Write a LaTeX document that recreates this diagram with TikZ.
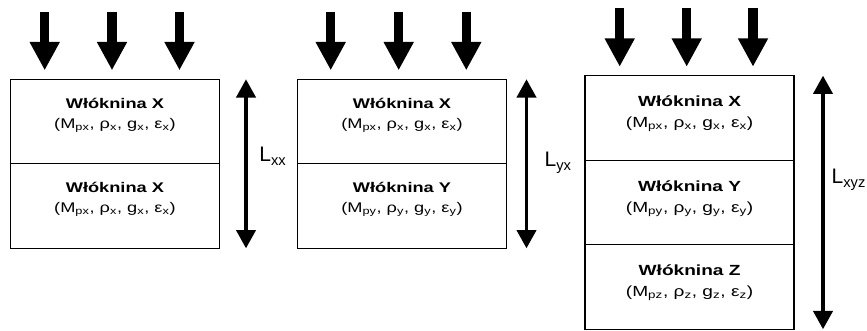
\documentclass[tikz,border=0pt]{standalone}
\usepackage{fontspec}
\setmainfont{Liberation Sans}
\usepackage{tikz}
\usetikzlibrary{arrows.meta,positioning}

\begin{document}
\begin{tikzpicture}[x=1pt, y=-1pt,
  layer/.style={draw, line width=1.3pt, minimum width=209pt, minimum height=84.5pt, inner sep=0pt, outer sep=0pt},
  lname/.style={anchor=base, inner sep=0pt, xscale=1.3, font=\fontsize{#1pt}{17pt}\selectfont\bfseries},
  lprops/.style={anchor=base, inner sep=0pt, xscale=1.3, font=\fontsize{#1pt}{17pt}\selectfont},
  load/.style={-{Triangle[width=28.3pt,length=28.3pt]}, line width=9.3pt, shorten >=9pt},
  span/.style={{Triangle[width=19.3pt,length=18.3pt]}-{Triangle[width=19.3pt,length=18.3pt]}, line width=3.3pt},
  dim/.style={anchor=base west, inner sep=0pt, font=\fontsize{21pt}{24pt}\selectfont}]

\useasboundingbox (0,0) rectangle (867,331);

% pair X + X
\node (xx1) at (114.9,121.55) [layer] {};
\node (xx2) [layer, below=0pt of xx1] {};

\node (xx1n) at ([yshift=-29pt]xx1.north) [lname=14] {Włóknina X};
\node (xx1p) at ([yshift=-49pt]xx1.north) [lprops=14] {(M\textsubscript{px}, ρ\textsubscript{x}, g\textsubscript{x}, ε\textsubscript{x})};
\node (xx2n) at ([yshift=-29pt]xx2.north) [lname=14] {Włóknina X};
\node (xx2p) at ([yshift=-49pt]xx2.north) [lprops=14] {(M\textsubscript{px}, ρ\textsubscript{x}, g\textsubscript{x}, ε\textsubscript{x})};

\coordinate (xxa) at (44.7,12);
\coordinate (xxb) at (112,12);
\coordinate (xxc) at (179.5,12);
\draw[load] (xxa) -- (xxa |- xx1.north);
\draw[load] (xxb) -- (xxb |- xx1.north);
\draw[load] (xxc) -- (xxc |- xx1.north);

\coordinate (xxd) at (246,0);
\draw[span] (xxd |- xx1.north) -- (xxd |- xx2.south);
\node (xxl) at (259.2,162) [dim] {L\textsubscript{xx}};

% pair Y + X
\node (yx1) at (402,121.55) [layer] {};
\node (yx2) [layer, below=0pt of yx1] {};

\node (yx1n) at ([yshift=-29pt]yx1.north) [lname=14] {Włóknina X};
\node (yx1p) at ([yshift=-49pt]yx1.north) [lprops=14] {(M\textsubscript{px}, ρ\textsubscript{x}, g\textsubscript{x}, ε\textsubscript{x})};
\node (yx2n) at ([yshift=-29pt]yx2.north) [lname=14] {Włóknina Y};
\node (yx2p) at ([yshift=-49pt]yx2.north) [lprops=14] {(M\textsubscript{py}, ρ\textsubscript{y}, g\textsubscript{y}, ε\textsubscript{y})};

\coordinate (yxa) at (330.7,11.7);
\coordinate (yxb) at (398.7,11.7);
\coordinate (yxc) at (466.3,11.7);
\draw[load] (yxa) -- (yxa |- yx1.north);
\draw[load] (yxb) -- (yxb |- yx1.north);
\draw[load] (yxc) -- (yxc |- yx1.north);

\coordinate (yxd) at (526.5,0);
\draw[span] (yxd |- yx1.north) -- (yxd |- yx2.south);
\node (yxl) at (544.5,167) [dim] {L\textsubscript{yx}};

% stack X + Y + Z
\node (xyz1) at (689.6,117.95) [layer] {};
\node (xyz2) [layer, below=0pt of xyz1] {};
\node (xyz3) [layer, below=0pt of xyz2] {};

\node (xyz1n) at ([yshift=-31pt]xyz1.north) [lname=14.7] {Włóknina X};
\node (xyz1p) at ([yshift=-52pt]xyz1.north) [lprops=14.7] {(M\textsubscript{px}, ρ\textsubscript{x}, g\textsubscript{x}, ε\textsubscript{x})};
\node (xyz2n) at ([yshift=-31pt]xyz2.north) [lname=14.7] {Włóknina Y};
\node (xyz2p) at ([yshift=-52pt]xyz2.north) [lprops=14.7] {(M\textsubscript{py}, ρ\textsubscript{y}, g\textsubscript{y}, ε\textsubscript{y})};
\node (xyz3n) at ([yshift=-31pt]xyz3.north) [lname=14.7] {Włóknina Z};
\node (xyz3p) at ([yshift=-52pt]xyz3.north) [lprops=14.7] {(M\textsubscript{pz}, ρ\textsubscript{z}, g\textsubscript{z}, ε\textsubscript{z})};

\coordinate (xyza) at (619.7,8.3);
\coordinate (xyzb) at (686.7,8.3);
\coordinate (xyzc) at (753,8.3);
\draw[load] (xyza) -- (xyza |- xyz1.north);
\draw[load] (xyzb) -- (xyzb |- xyz1.north);
\draw[load] (xyzc) -- (xyzc |- xyz1.north);

\coordinate (xyzd) at (823,0);
\draw[span] (xyzd |- xyz1.north) -- (xyzd |- xyz3.south);
\node (xyzl) at (831.5,184) [dim] {L\textsubscript{xyz}};

\end{tikzpicture}
\end{document}
